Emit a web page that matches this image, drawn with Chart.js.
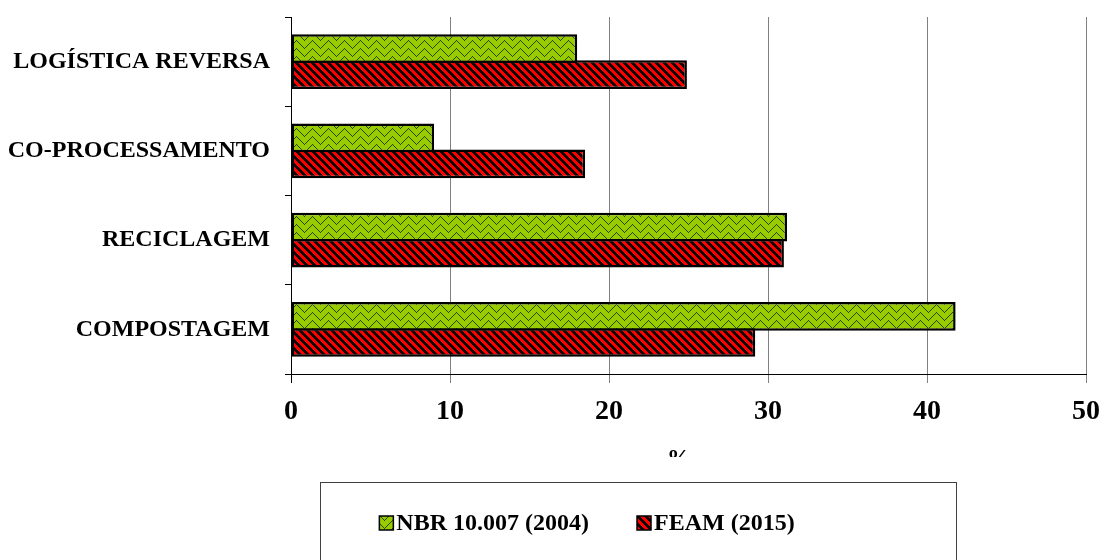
<!DOCTYPE html>
<html>
<head>
<meta charset="utf-8">
<script src="https://cdn.jsdelivr.net/npm/chart.js@4/dist/chart.umd.min.js"></script>
<style>
  html, body { margin: 0; padding: 0; background: #ffffff; }
  #wrap { width: 1103px; height: 560px; position: relative; }
</style>
</head>
<body>
<div id="wrap"><canvas id="c" width="1103" height="560"></canvas></div>
<script>
// Destinação de resíduos: percentual por tipo de tratamento
const categories = ['LOGÍSTICA REVERSA', 'CO-PROCESSAMENTO', 'RECICLAGEM', 'COMPOSTAGEM'];
const seriesNames = ['NBR 10.007 (2004)', 'FEAM (2015)'];
const nbrValues = [18, 9, 31.2, 41.8];
const feamValues = [24.9, 18.5, 31, 29.2];
const xTicks = [0, 10, 20, 30, 40, 50];
const axisTitle = '%';

const SERIF = "'Liberation Serif', 'DejaVu Serif', serif";

// Green woven fill
function makeWeave() {
  const t = document.createElement('canvas');
  t.width = 16; t.height = 16;
  const g = t.getContext('2d');
  g.fillStyle = '#99cc00';
  g.fillRect(0, 0, 16, 16);
  const img = g.getImageData(0, 0, 16, 16);
  for (let y = 0; y < 16; y++) {
    for (let x = 0; x < 16; x++) {
      const v = Math.abs((x % 16) - 8);
      const d = ((y - v) % 8 + 8) % 8;
      let shade = null;
      if (d === 0) shade = [40, 70, 0];
      else if (d === 1 && (x + y) % 2 === 0) shade = [70, 110, 0];
      if (shade) {
        const i = (y * 16 + x) * 4;
        img.data[i] = shade[0]; img.data[i + 1] = shade[1]; img.data[i + 2] = shade[2];
      }
    }
  }
  g.putImageData(img, 0, 0);
  return g.createPattern(t, 'repeat');
}

// Red fill with dark downward diagonal stripes
function makeStripes() {
  const t = document.createElement('canvas');
  t.width = 8; t.height = 8;
  const g = t.getContext('2d');
  const img = g.createImageData(8, 8);
  for (let y = 0; y < 8; y++) {
    for (let x = 0; x < 8; x++) {
      const d = ((x - y) % 8 + 8) % 8;
      const i = (y * 8 + x) * 4;
      const dark = d < 4;
      img.data[i] = dark ? 20 : 255;
      img.data[i + 1] = 0;
      img.data[i + 2] = 0;
      img.data[i + 3] = 255;
    }
  }
  g.putImageData(img, 0, 0);
  return g.createPattern(t, 'repeat');
}

const weave = makeWeave();
const stripes = makeStripes();

function clearScalePadding(scale) {
  scale.paddingTop = 0;
  scale.paddingBottom = 0;
  scale.paddingLeft = 0;
  scale.paddingRight = 0;
}

// Framed legend and the axis unit below the plot
const decorations = {
  id: 'decorations',
  afterDraw(chart) {
    const ctx = chart.ctx;
    ctx.save();

    // axis unit, partly hidden under the legend frame
    ctx.save();
    ctx.beginPath();
    ctx.rect(0, 440, chart.width, 17);
    ctx.clip();
    ctx.fillStyle = '#000';
    ctx.font = 'bold 24px ' + SERIF;
    ctx.textAlign = 'center';
    ctx.textBaseline = 'top';
    ctx.fillText(axisTitle, 679, 447);
    ctx.restore();

    // legend frame
    ctx.strokeStyle = '#404040';
    ctx.lineWidth = 1;
    ctx.strokeRect(320.5, 482.5, 636, 120);

    // legend items
    ctx.font = 'bold 24px ' + SERIF;
    ctx.textBaseline = 'middle';
    ctx.textAlign = 'left';
    const box = 14, gapText = 3, gapItem = 48;
    const items = chart.data.datasets.map(ds => ({
      label: ds.label, fill: ds.backgroundColor,
      w: box + gapText + ctx.measureText(ds.label).width
    }));
    const total = items.reduce((s, it) => s + it.w, 0) + gapItem * (items.length - 1);
    let x = 587 - total / 2;
    const cy = 523;
    items.forEach(it => {
      ctx.fillStyle = it.fill;
      ctx.fillRect(x, cy - box / 2, box, box);
      ctx.strokeStyle = '#000';
      ctx.lineWidth = 1.5;
      ctx.strokeRect(x, cy - box / 2, box, box);
      ctx.fillStyle = '#000';
      ctx.fillText(it.label, x + box + gapText, cy + 1);
      x += it.w + gapItem;
    });
    ctx.restore();
  }
};

new Chart(document.getElementById('c'), {
  type: 'bar',
  data: {
    labels: categories,
    datasets: [
      {
        label: seriesNames[0],
        data: nbrValues,
        backgroundColor: weave,
        borderColor: '#000',
        borderWidth: 2.5,
        borderSkipped: false,
        categoryPercentage: 0.5843,
        barPercentage: 1.096
      },
      {
        label: seriesNames[1],
        data: feamValues,
        backgroundColor: stripes,
        borderColor: '#000',
        borderWidth: 2.5,
        borderSkipped: false,
        categoryPercentage: 0.5843,
        barPercentage: 1.096
      }
    ]
  },
  options: {
    indexAxis: 'y',
    responsive: false,
    animation: false,
    layout: { autoPadding: false, padding: { top: 17, right: 17, left: 0, bottom: 0 } },
    plugins: {
      legend: { display: false },
      tooltip: { enabled: false }
    },
    scales: {
      x: {
        min: 0,
        max: 50,
        afterBuildTicks(scale) { scale.ticks = xTicks.map(v => ({ value: v })); },
        afterFit(scale) { scale.height = 186; clearScalePadding(scale); },
        grid: {
          color: '#808080',
          lineWidth: 1,
          tickLength: 9,
          tickColor: c => (c.tick && c.tick.value === 0 ? '#000' : '#808080')
        },
        border: { color: '#000', width: 1 },
        ticks: {
          color: '#000',
          padding: 12,
          maxRotation: 0,
          font: { family: SERIF, size: 28, weight: 'bold' }
        }
      },
      y: {
        afterFit(scale) { scale.width = 291; clearScalePadding(scale); },
        grid: {
          drawOnChartArea: false,
          tickLength: 6,
          color: '#000'
        },
        border: { color: '#000', width: 1 },
        ticks: {
          color: '#000',
          padding: 15,
          font: { family: SERIF, size: 24, weight: 'bold' }
        }
      }
    }
  },
  plugins: [decorations]
});
</script>
</body>
</html>
